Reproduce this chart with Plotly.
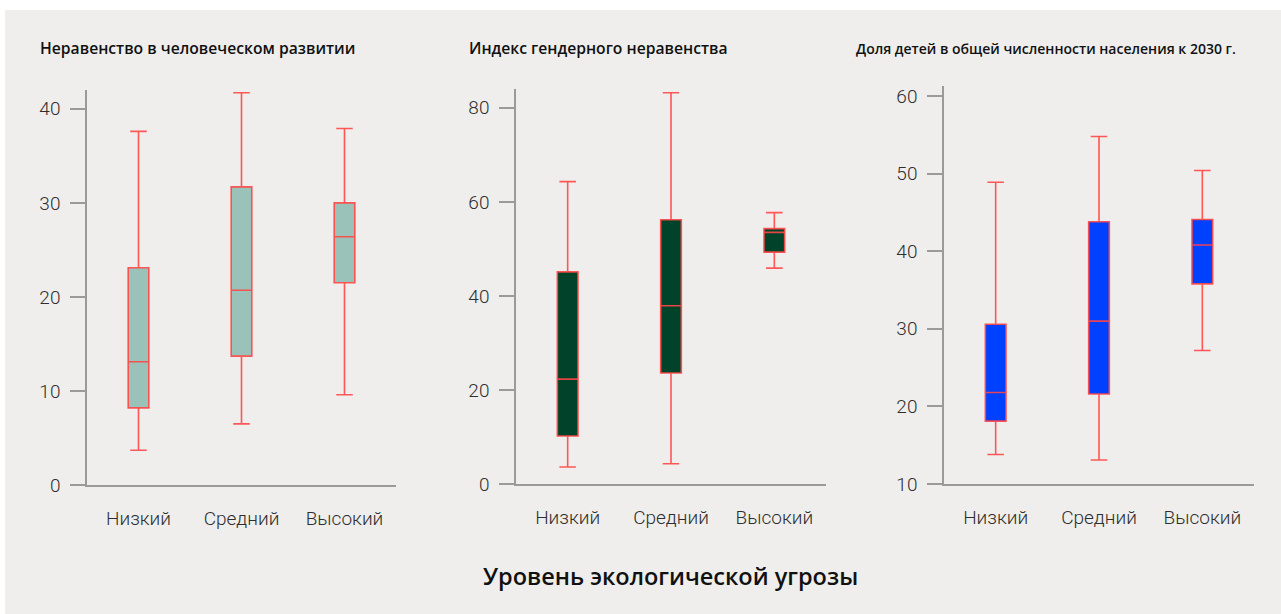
import plotly.graph_objects as go

categories = ["Низкий", "Средний", "Высокий"]

titles = ["Неравенство в человеческом развитии",
          "Индекс гендерного неравенства",
          "Доля детей в общей численности населения к 2030 г."]
x_title = "Уровень экологической угрозы"

# panel 1: Неравенство в человеческом развитии
p1_low = [3.7, 6.5, 9.6]
p1_q1 = [8.2, 13.7, 21.5]
p1_med = [13.1, 20.7, 26.4]
p1_q3 = [23.1, 31.7, 30.0]
p1_high = [37.6, 41.7, 37.9]

# panel 2: Индекс гендерного неравенства
p2_low = [3.6, 4.3, 45.9]
p2_q1 = [10.2, 23.6, 49.3]
p2_med = [22.3, 37.9, 53.5]
p2_q3 = [45.1, 56.2, 54.3]
p2_high = [64.3, 83.2, 57.7]

# panel 3: Доля детей в общей численности населения к 2030 г.
p3_low = [13.8, 13.1, 27.2]
p3_q1 = [18.1, 21.6, 35.8]
p3_med = [21.8, 31.0, 40.8]
p3_q3 = [30.6, 43.8, 44.1]
p3_high = [48.9, 54.8, 50.4]

y_ticks = [[0, 10, 20, 30, 40], [0, 20, 40, 60, 80], [10, 20, 30, 40, 50, 60]]
y_ranges = [[0, 42], [0, 84], [10, 61.3]]

fills = ["#9bc2b8", "#00432b", "#0040ff"]
line_col = "rgba(255,70,70,0.9)"

W, H = 1281, 614
x_dom = [[87 / W, 396 / W], [516 / W, 826 / W], [944 / W, 1254 / W]]
y_dom = [[1 - 485 / H, 1 - 90 / H], [1 - 484 / H, 1 - 89 / H], [1 - 484 / H, 1 - 86 / H]]

panels = [
    (p1_low, p1_q1, p1_med, p1_q3, p1_high),
    (p2_low, p2_q1, p2_med, p2_q3, p2_high),
    (p3_low, p3_q1, p3_med, p3_q3, p3_high),
]

fig = go.Figure()
tick_font = dict(family="Roboto, DejaVu Sans Condensed, sans-serif", size=19, color="#2e2e2e", weight=300)

for i, (lo, q1, med, q3, hi) in enumerate(panels):
    sfx = "" if i == 0 else str(i + 1)
    fig.add_trace(go.Box(
        x=categories, lowerfence=lo, q1=q1, median=med, q3=q3, upperfence=hi,
        fillcolor=fills[i], line=dict(color=line_col, width=1.6),
        width=0.2, whiskerwidth=0.8, boxpoints=False, showlegend=False,
        xaxis="x" + sfx, yaxis="y" + sfx, hoverinfo="skip",
    ))
    fig.layout["xaxis" + sfx] = dict(
        domain=x_dom[i], anchor="y" + sfx, type="category", range=[-0.5, 2.5],
        showline=True, linecolor="#9a9a9a", linewidth=1.5, ticks="", showgrid=False,
        zeroline=False, tickfont=tick_font, ticklabelstandoff=15, automargin=False,
        fixedrange=True,
    )
    fig.layout["yaxis" + sfx] = dict(
        domain=y_dom[i], anchor="x" + sfx, range=y_ranges[i], tickvals=y_ticks[i],
        showline=True, linecolor="#9a9a9a", linewidth=1.5, ticks="outside",
        ticklen=15, tickcolor="#9a9a9a", tickwidth=1.5, showgrid=False,
        zeroline=False, tickfont=tick_font, ticklabelstandoff=6, automargin=False,
        fixedrange=True,
    )

title_x = [38, 467, 854]
title_sizes = [15.7, 15.7, 14]
annotations = []
for i, t in enumerate(titles):
    annotations.append(dict(
        text=t, x=title_x[i] / W, y=1 - 48 / H, xref="paper", yref="paper",
        xanchor="left", yanchor="middle", showarrow=False,
        font=dict(family="Open Sans, sans-serif", size=title_sizes[i], color="#111111", weight=600),
    ))
annotations.append(dict(
    text=x_title, x=670 / W, y=1 - 576 / H, xref="paper", yref="paper",
    xanchor="center", yanchor="middle", showarrow=False,
    font=dict(family="Open Sans, sans-serif", size=23.5, color="#111111", weight=600),
))

fig.update_layout(
    width=W, height=H, margin=dict(l=0, r=0, t=0, b=0, pad=0),
    paper_bgcolor="white", plot_bgcolor="rgba(0,0,0,0)",
    annotations=annotations,
    shapes=[dict(type="rect", xref="paper", yref="paper", x0=5 / W, x1=1, y0=0, y1=1 - 10 / H,
                 fillcolor="#efeeec", line=dict(width=0), layer="below")],
)

fig.write_html("out.html", config={"displayModeBar": False},
               post_script="document.body.style.margin='0';document.body.style.overflow='hidden';")
